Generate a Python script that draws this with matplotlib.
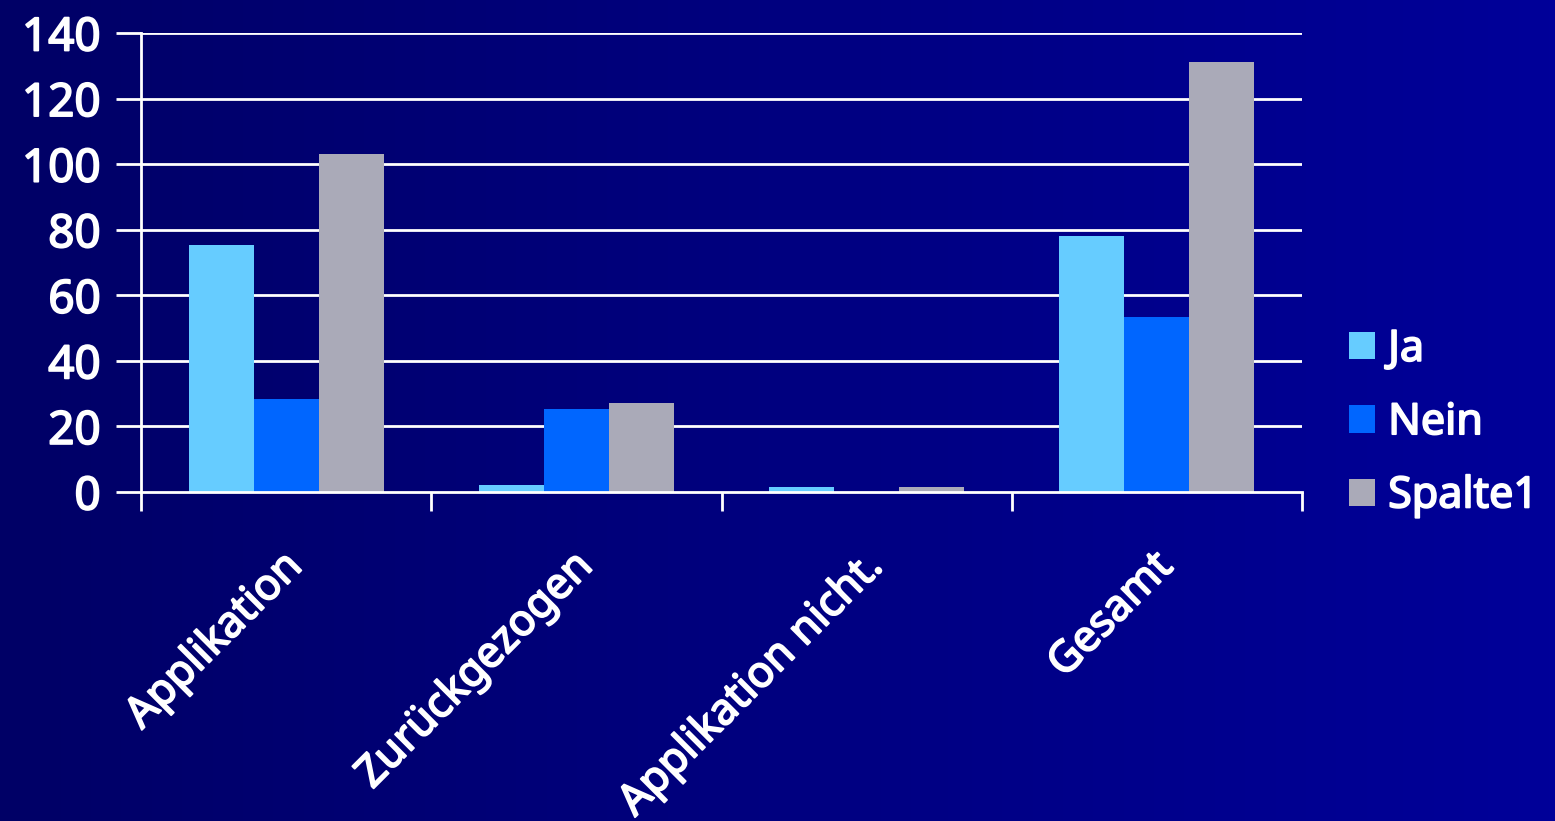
import matplotlib
matplotlib.use("Agg")
import matplotlib.pyplot as plt
import matplotlib.patheffects as pe
import numpy as np
from matplotlib.colors import LinearSegmentedColormap

categories = ["Applikation", "Zurückgezogen", "Applikation nicht.", "Gesamt"]
ja = [75.3, 2.1, 1.5, 78.0]
nein = [28.4, 25.3, 0.0, 53.4]
spalte1 = [103.1, 27.1, 1.5, 131.1]
series_names = ["Ja", "Nein", "Spalte1"]
series_colors = ["#66CCFF", "#0066FF", "#AAAAB8"]
yticks = [0, 20, 40, 60, 80, 100, 120, 140]

plt.rcParams["font.family"] = ["Noto Sans", "DejaVu Sans"]
FS = 31
thick = [pe.withStroke(linewidth=1.3, foreground="white")]

W, H = 1555, 821
fig = plt.figure(figsize=(W / 100, H / 100), dpi=100)

# gradient background
bg = fig.add_axes([0, 0, 1, 1], zorder=-10)
cmap = LinearSegmentedColormap.from_list("bg", ["#000066", "#000099"])
grad = np.linspace(0, 1, 512).reshape(1, -1)
bg.imshow(grad, aspect="auto", cmap=cmap, extent=[0, 1, 0, 1])
bg.axis("off")

ax = fig.add_axes([141 / W, 1 - 492 / H, (1302 - 141) / W, (492 - 33) / H])
ax.patch.set_alpha(0)

x = np.arange(len(categories))
bw = 0.224
for i, (vals, name, col) in enumerate(zip([ja, nein, spalte1], series_names, series_colors)):
    ax.bar(x + (i - 1) * bw, vals, width=bw, color=col, label=name, zorder=3, linewidth=0)

for t in yticks[1:]:
    ax.axhline(t, color="white", lw=2, zorder=1)

ax.set_xlim(-0.5, len(categories) - 0.5)
ax.set_ylim(0, 140)
ax.set_yticks(yticks)
ax.set_yticklabels([str(t) for t in yticks], fontsize=FS + 2, color="white")

for s in ["top", "right"]:
    ax.spines[s].set_visible(False)
for s in ["left", "bottom"]:
    ax.spines[s].set_color("white")
    ax.spines[s].set_linewidth(2)
ax.spines["bottom"].set_zorder(4)

ax.set_xticks(np.arange(len(categories) + 1) - 0.5)
ax.set_xticklabels([])
ax.set_xticks(x - 0.02, minor=True)
ax.set_xticklabels(categories, minor=True, rotation=45, ha="right",
                   rotation_mode="anchor", fontsize=FS, color="white")
ax.tick_params(axis="x", which="major", length=14, width=2, color="white", direction="out")
ax.tick_params(axis="x", which="minor", length=0, pad=38)
ax.tick_params(axis="y", length=18, width=2, color="white", pad=11)

leg = ax.legend(loc="center left", bbox_to_anchor=(1.026, 0.15), frameon=False,
                prop={"size": FS}, labelcolor="white",
                handlelength=0.6, handleheight=0.6,
                handletextpad=0.3, labelspacing=0.68, borderaxespad=0)

for t in ax.get_yticklabels() + ax.get_xticklabels(minor=True) + leg.get_texts():
    t.set_path_effects(thick)

fig.savefig("out.png", dpi=100)
